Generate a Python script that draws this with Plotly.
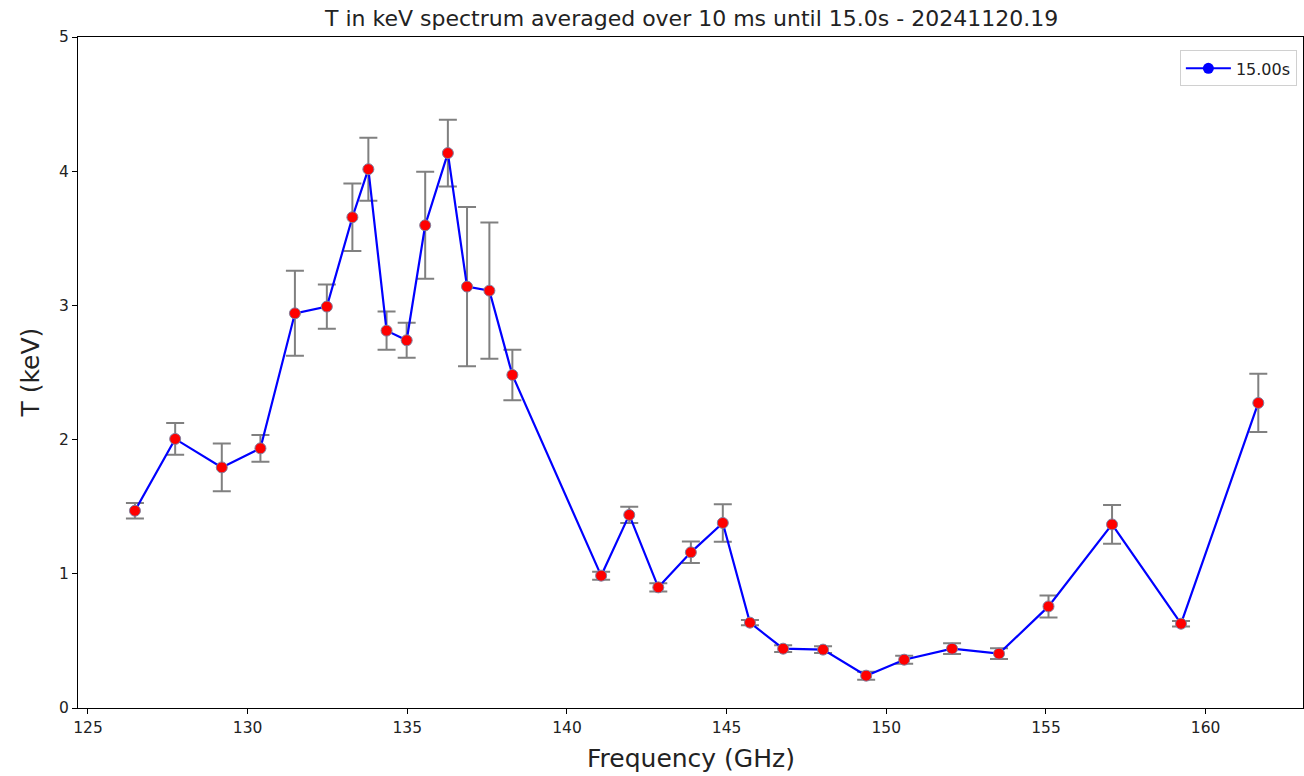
import plotly.graph_objects as go

freq = [126.47, 127.73, 129.19, 130.40, 131.48, 132.48, 133.28, 133.78, 134.35, 134.98,
        135.56, 136.27, 136.87, 137.57, 138.29, 141.07, 141.95, 142.86, 143.88, 144.88,
        145.73, 146.77, 148.02, 149.37, 150.56, 152.06, 153.53, 155.08, 157.07, 159.23, 161.65]
temp = [1.47, 2.005, 1.793, 1.935, 2.941, 2.991, 3.657, 4.015, 2.812, 2.740,
        3.597, 4.135, 3.140, 3.110, 2.482, 0.986, 1.439, 0.899, 1.160, 1.379,
        0.636, 0.442, 0.435, 0.241, 0.360, 0.442, 0.405, 0.757, 1.368, 0.628, 2.273]
err = [0.057, 0.118, 0.178, 0.10, 0.317, 0.165, 0.252, 0.235, 0.142, 0.13,
       0.398, 0.249, 0.594, 0.508, 0.188, 0.03, 0.06, 0.03, 0.08, 0.14,
       0.02, 0.025, 0.025, 0.03, 0.03, 0.04, 0.04, 0.082, 0.145, 0.02, 0.217]
x_ticks = [125, 130, 135, 140, 145, 150, 155, 160]
y_ticks = [0, 1, 2, 3, 4, 5]
legend_label = "15.00s"
title = "T in keV spectrum averaged over 10 ms until 15.0s - 20241120.19"

FONT = "DejaVu Sans"

fig = go.Figure()
fig.add_trace(go.Scatter(
    x=freq, y=temp, mode="lines+markers",
    line=dict(color="blue", width=2.2),
    marker=dict(color="red", size=11, line=dict(color="#7f7f9f", width=1)),
    error_y=dict(type="data", array=err, visible=True, color="gray", thickness=2, width=9),
    showlegend=False,
))
fig.add_trace(go.Scatter(
    x=[None], y=[None], mode="lines+markers", name=legend_label,
    line=dict(color="blue", width=2),
    marker=dict(color="blue", size=11),
))

axis_common = dict(showgrid=False, zeroline=False, showline=True, linecolor="black",
                   linewidth=1, mirror=True, ticks="outside", ticklen=5, tickwidth=1,
                   tickcolor="black", tickfont=dict(family=FONT, size=15.5, color="#222"))
fig.update_xaxes(range=[124.687, 163.05], tickvals=x_ticks, **axis_common)
fig.update_yaxes(range=[0, 5], tickvals=y_ticks, **axis_common)

fig.update_layout(
    width=1304, height=776,
    margin=dict(l=78, r=1, t=37, b=68),
    paper_bgcolor="white", plot_bgcolor="white",
    font=dict(family=FONT, color="black"),
    showlegend=True,
    legend=dict(x=0.995, y=0.98, xanchor="right", yanchor="top", itemwidth=45,
                bgcolor="white", bordercolor="#d0d0d0", borderwidth=1,
                font=dict(family=FONT, size=16, color="#222")),
    annotations=[
        dict(text=title, xref="paper", yref="paper", x=0.5, y=1, yshift=19,
             yanchor="middle", showarrow=False, font=dict(family=FONT, size=22, color="#222")),
        dict(text="Frequency (GHz)", xref="paper", yref="paper", x=0.5, y=0, yshift=-50,
             yanchor="middle", showarrow=False, font=dict(family=FONT, size=25, color="#222")),
        dict(text="T (keV)", xref="paper", yref="paper", x=0, xshift=-48, y=0.5,
             xanchor="center", yanchor="middle", textangle=-90, showarrow=False,
             font=dict(family=FONT, size=25, color="#222")),
    ],
)

fig.write_html("out.html")
